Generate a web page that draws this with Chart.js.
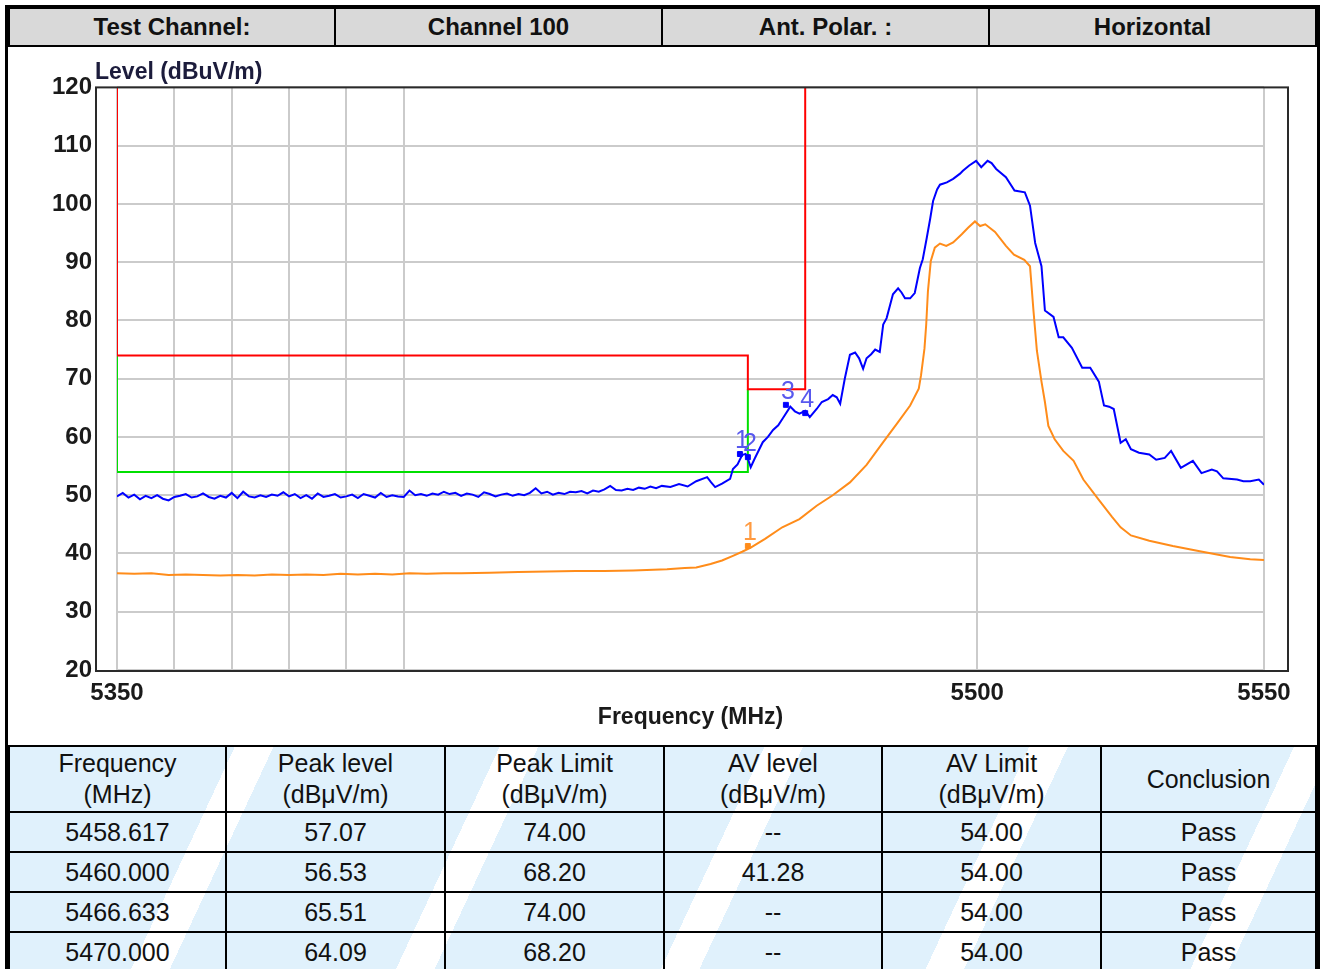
<!DOCTYPE html>
<html lang="en">
<head>
<meta charset="UTF-8">
<title>Channel 100 - Horizontal</title>
<script src="https://cdn.jsdelivr.net/npm/chart.js@4"></script>
<style>
  body { margin:0; background:#fff; font-family:"Liberation Sans", Arial, sans-serif; color:#111; }
  #page { position:relative; width:1325px; height:969px; overflow:hidden; }
  #outer { position:absolute; left:5px; top:5px; width:1315px; height:990px; box-sizing:border-box;
           border:3px solid #000; border-bottom:none; }
  table { position:absolute; border-collapse:collapse; table-layout:fixed; }
  #head { left:8px; top:7px; width:1309px; height:40px; }
  #head td { background:#d9d9d9; border:2px solid #000; font-weight:bold; font-size:24px;
             text-align:center; padding:0; }
  #myChart { position:absolute; left:8px; top:48px; }
  #result { left:8px; top:745px; width:1309px;
            background:repeating-linear-gradient(115deg, #e0f1fc 0px, #e0f1fc 205px, #ffffff 205px, #ffffff 240px); }
  #result td { border:2px solid #000; font-size:25px; text-align:center; padding:0; height:38px; }
  #result tr.hd td { height:64px; line-height:31px; }
</style>
</head>
<body>
<div id="page">
  <div id="outer"></div>
  <table id="head">
    <tr>
      <td style="width:324px">Test Channel:</td>
      <td style="width:325px">Channel 100</td>
      <td style="width:325px">Ant. Polar. :</td>
      <td>Horizontal</td>
    </tr>
  </table>

  <canvas id="myChart" width="1309" height="697"></canvas>

  <table id="result">
    <tr class="hd">
      <td style="width:215px">Frequency<br>(MHz)</td>
      <td style="width:217px">Peak level<br>(dBμV/m)</td>
      <td style="width:217px">Peak Limit<br>(dBμV/m)</td>
      <td style="width:216px">AV level<br>(dBμV/m)</td>
      <td style="width:217px">AV Limit<br>(dBμV/m)</td>
      <td>Conclusion</td>
    </tr>
    <tbody id="rows"></tbody>
  </table>
</div>

<script>
    // axis
    var xGrid = [5350, 5360, 5370, 5380, 5390, 5400, 5500, 5550];
    var xLabels = ['5350', '', '', '', '', '', '5500', '5550'];
    var yTicks = [20, 30, 40, 50, 60, 70, 80, 90, 100, 110, 120];

    // limit lines [MHz, dBuV/m]
    var peakLimit = [[5350,120],[5350,74],[5460,74],[5460,68.2],[5470,68.2],[5470,120]];
    var avLimit = [[5350,74],[5350,54],[5460,54],[5460,68.2]];

    // peak trace (blue)
    var peakTrace = [
        [5350,49.8],[5351,50.4],[5352,49.6],[5353,50.1],[5354,49.3],[5355,49.9],[5356,49.5],[5357,50.0],[5358,49.4],[5359,49.1],
        [5360,49.7],[5361,49.9],[5362,50.2],[5363,49.6],[5364,49.8],[5365,50.3],[5366,49.7],[5367,49.4],[5368,49.9],[5369,49.6],
        [5370,50.4],[5371,49.5],[5372,50.6],[5373,49.8],[5374,49.6],[5375,50.0],[5376,49.7],[5377,50.1],[5378,49.9],[5379,50.5],
        [5380,49.8],[5381,50.2],[5382,49.5],[5383,50.0],[5384,49.4],[5385,50.3],[5386,49.7],[5387,49.9],[5388,50.2],[5389,49.6],
        [5390,49.8],[5391,50.1],[5392,49.5],[5393,50.2],[5394,49.9],[5395,49.6],[5396,50.4],[5397,49.7],[5398,50.0],[5399,49.8],
        [5400,49.7],[5401,50.8],[5402,50.0],[5403,50.2],[5404,49.9],[5405,50.3],[5406,50.1],[5407,50.6],[5408,50.2],[5409,50.4],
        [5410,49.9],[5411,50.3],[5412,50.1],[5413,49.7],[5414,50.5],[5415,50.2],[5416,49.8],[5417,50.1],[5418,50.3],[5419,49.9],
        [5420,50.2],[5421,50.0],[5422,50.4],[5423,51.2],[5424,50.3],[5425,50.6],[5426,50.1],[5427,50.4],[5428,50.2],[5429,50.6],
        [5430,50.5],[5431,50.7],[5432,50.3],[5433,50.8],[5434,50.6],[5435,51.0],[5436,51.6],[5437,50.9],[5438,50.8],[5439,51.1],
        [5440,50.9],[5441,51.3],[5442,51.1],[5443,51.5],[5444,51.2],[5445,51.6],
        [5446.5,51.4],[5448,51.9],[5449.5,51.5],[5451,52.4],[5452.9,53.1],[5453.6,52.2],[5454.3,51.4],[5455.5,52.0],
        [5456.9,52.8],[5457.4,54.5],[5458.2,55.3],[5459.0,56.9],[5459.6,57.1],[5460.0,56.3],[5460.5,54.8],[5461.2,56.3],
        [5462.6,59.1],[5463.5,60.0],[5464.4,61.2],[5465.3,62.0],[5466.1,63.2],[5467.4,65.2],[5468.2,64.4],[5469.0,64.0],
        [5470.0,64.5],[5470.8,63.4],[5472.0,64.8],[5472.9,66.0],[5474.0,66.5],[5474.8,67.2],[5475.5,66.8],[5476.1,65.7],
        [5476.9,70.0],[5477.8,74.1],[5478.7,74.5],[5479.4,73.5],[5480.1,71.7],[5480.7,73.5],[5481.5,74.2],[5482.2,75.0],
        [5483.0,74.6],[5483.6,79.3],[5484.2,80.4],[5485.3,84.5],[5486.2,85.5],[5486.8,84.8],[5487.4,83.8],[5488.3,83.8],
        [5489.1,84.7],[5490.0,89.0],[5490.5,90.5],[5491.2,94.2],[5491.8,97.5],[5492.3,100.5],[5493.0,102.5],[5493.5,103.3],
        [5494.7,103.7],[5495.8,104.3],[5497.0,105.2],[5497.5,105.7],[5498.6,106.6],[5499.8,107.4],[5500.7,106.3],[5501.8,107.4],
        [5502.5,107.0],[5503.3,106.0],[5505.0,104.6],[5506.5,102.3],[5508.3,102.0],[5509.2,99.7],[5510.1,93.3],[5511.2,89.3],
        [5511.8,81.7],[5513.3,80.6],[5514.2,77.1],[5515.0,77.1],[5516.5,75.3],[5518.3,71.9],[5519.7,71.9],[5521.2,69.5],
        [5522.1,65.4],[5523.0,65.2],[5523.8,64.8],[5525.0,59.0],[5525.9,59.6],[5526.8,57.9],[5528.2,57.3],[5530.0,57.0],
        [5531.2,56.1],[5532.7,56.4],[5533.8,57.6],[5535.5,54.7],[5537.6,55.9],[5539.1,53.8],[5540.9,54.4],[5541.8,54.1],
        [5542.9,52.9],[5545.3,52.7],[5546.4,52.4],[5547.6,52.4],[5549.1,52.7],[5550.0,51.8]
    ];

    // average trace (orange)
    var avTrace = [
        [5350,36.6],[5353,36.5],[5356,36.6],[5359,36.3],[5362,36.4],[5365,36.3],[5368,36.2],[5371,36.3],[5374,36.2],
        [5377,36.4],[5380,36.3],[5383,36.4],[5386,36.3],[5389,36.5],[5392,36.4],[5395,36.5],[5398,36.4],[5401,36.6],
        [5404,36.5],[5407,36.6],[5410,36.6],[5415,36.7],[5420,36.8],[5425,36.9],[5430,37.0],[5435,37.0],[5440,37.1],
        [5445.9,37.3],[5449,37.5],[5451,37.6],[5453.5,38.2],[5455.5,38.8],[5457.4,39.6],[5459,40.3],[5460.5,41.0],
        [5463,42.5],[5466.0,44.5],[5469,45.9],[5472,48.2],[5474.8,50.0],[5477.8,52.2],[5480.7,55.2],[5483.6,59.1],
        [5486.0,62.3],[5488.3,65.4],[5489.8,68.3],[5490.2,70.6],[5490.8,75.2],[5491.1,79.3],[5491.4,85.0],[5491.9,90.2],
        [5492.6,92.5],[5493.5,93.2],[5494.6,92.8],[5495.8,93.4],[5497.3,94.8],[5498.4,95.9],[5499.6,97.0],[5500.5,96.2],
        [5501.4,96.5],[5503.1,95.2],[5505.0,92.8],[5506.4,91.3],[5508.2,90.4],[5509.2,89.3],[5509.8,81.7],[5510.4,74.8],
        [5511.2,69.5],[5511.8,66.0],[5512.4,61.9],[5513.5,59.6],[5515.0,57.6],[5516.8,55.9],[5518.5,52.7],[5521.2,49.2],
        [5523.5,46.3],[5525.0,44.5],[5526.8,43.1],[5530.0,42.2],[5534.1,41.3],[5538.8,40.4],[5544.1,39.4],[5547.6,39.0],
        [5550,38.9]
    ];

    // markers
    var peakMarkFreq = [5458.617, 5460.000, 5466.633, 5470.000];
    var peakMarkLevel = [57.07, 56.53, 65.51, 64.09];
    var peakMarkText = ['1', '2', '3', '4'];
    var avMarkFreq = [5460.000];
    var avMarkLevel = [41.28];
    var avMarkText = ['1'];

    // result table
    var rowFreq = ['5458.617', '5460.000', '5466.633', '5470.000'];
    var rowPeak = ['57.07', '56.53', '65.51', '64.09'];
    var rowPeakLimit = ['74.00', '68.20', '74.00', '68.20'];
    var rowAv = ['--', '41.28', '--', '--'];
    var rowAvLimit = ['54.00', '54.00', '54.00', '54.00'];
    var rowResult = ['Pass', 'Pass', 'Pass', 'Pass'];

    var html = '';
    for (var i = 0; i < rowFreq.length; i++) {
        html += '<tr><td>' + rowFreq[i] + '</td><td>' + rowPeak[i] + '</td><td>' + rowPeakLimit[i] +
                '</td><td>' + rowAv[i] + '</td><td>' + rowAvLimit[i] + '</td><td>' + rowResult[i] + '</td></tr>';
    }
    document.getElementById('rows').innerHTML = html;

    function xy(pairs) {
        return pairs.map(function (p) { return {x: p[0], y: p[1]}; });
    }
    function marks(f, v) {
        return f.map(function (x, i) { return {x: x, y: v[i]}; });
    }

    var FONT = '"Liberation Sans", Arial, sans-serif';
    Chart.defaults.font.family = FONT;

    // frame, axis title and marker numbers
    var extras = {
        id: 'extras',
        afterDatasetsDraw: function (chart) {
            var ctx = chart.ctx;
            ctx.save();
            ctx.font = '25px ' + FONT;
            ctx.textAlign = 'center';
            ctx.textBaseline = 'alphabetic';
            chart.data.datasets.forEach(function (ds, di) {
                if (!ds.markText) return;
                ctx.fillStyle = ds.textColor;
                chart.getDatasetMeta(di).data.forEach(function (pt, i) {
                    ctx.fillText(ds.markText[i], pt.x + 2, pt.y - 6);
                });
            });
            ctx.restore();
        },
        afterDraw: function (chart) {
            var ctx = chart.ctx, a = chart.chartArea;
            ctx.save();
            ctx.strokeStyle = '#2a2a2a';
            ctx.lineWidth = 2;
            ctx.strokeRect(a.left - 21, a.top, a.right - a.left + 45, a.bottom - a.top + 1);
            ctx.font = 'bold 23px ' + FONT;
            ctx.fillStyle = '#1c1c3c';
            ctx.textAlign = 'left';
            ctx.textBaseline = 'alphabetic';
            ctx.fillText('Level (dBuV/m)', a.left - 22, a.top - 8);
            ctx.restore();
        }
    };

    var lineStyle = {pointRadius: 0, borderWidth: 2, fill: false, tension: 0};

    new Chart(document.getElementById('myChart'), {
        type: 'line',
        data: {
            datasets: [
                {data: marks(peakMarkFreq, peakMarkLevel), showLine: false, pointStyle: 'rect', pointRadius: 3.5,
                 backgroundColor: '#0000ff', borderColor: '#0000ff', markText: peakMarkText, textColor: '#5858ee'},
                {data: marks(avMarkFreq, avMarkLevel), showLine: false, pointStyle: 'rect', pointRadius: 3.5,
                 backgroundColor: '#ff8c1a', borderColor: '#ff8c1a', markText: avMarkText, textColor: '#ff9a40'},
                Object.assign({data: xy(peakTrace), borderColor: '#0000ff'}, lineStyle),
                Object.assign({data: xy(avTrace), borderColor: '#ff8c1a'}, lineStyle),
                Object.assign({data: xy(peakLimit), borderColor: '#ff0000'}, lineStyle),
                Object.assign({data: xy(avLimit), borderColor: '#00e000'}, lineStyle)
            ]
        },
        options: {
            responsive: false,
            animation: false,
            layout: {padding: {top: 39, right: 53, left: 0, bottom: 0}},
            plugins: {legend: {display: false}, tooltip: {enabled: false}},
            scales: {
                x: {
                    type: 'linear', min: 5350, max: 5550,
                    afterBuildTicks: function (s) { s.ticks = xGrid.map(function (v) { return {value: v}; }); },
                    afterFit: function (s) { s.height = 75; },
                    grid: {color: '#cbcbcb', lineWidth: 2, drawTicks: false},
                    border: {display: false},
                    ticks: {autoSkip: false, maxRotation: 0, padding: 9, color: '#1a1a1a',
                            font: {size: 24, weight: 'bold'},
                            callback: function (v, i) { return xLabels[i]; }},
                    title: {display: true, text: 'Frequency (MHz)', color: '#1a1a1a',
                            font: {size: 23, weight: 'bold'}, padding: {top: 0, bottom: 14}}
                },
                y: {
                    min: 20, max: 120,
                    afterBuildTicks: function (s) { s.ticks = yTicks.map(function (v) { return {value: v}; }); },
                    afterFit: function (s) { s.width = 109; },
                    grid: {color: '#cbcbcb', lineWidth: 2, drawTicks: false},
                    border: {display: false},
                    ticks: {padding: 25, color: '#1a1a1a', font: {size: 24, weight: 'bold'}}
                }
            }
        },
        plugins: [extras]
    });
</script>
</body>
</html>
